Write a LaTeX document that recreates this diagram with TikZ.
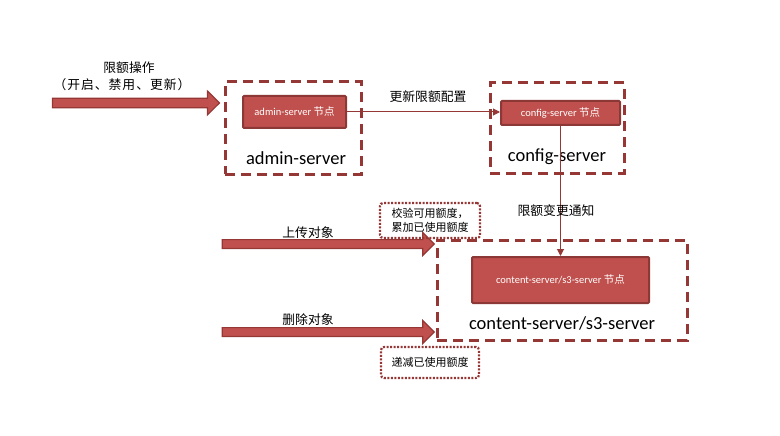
\documentclass[tikz,border=0pt]{standalone}
\usepackage{fontspec}
\setmainfont{Carlito}
\newfontfamily\cjk{Noto Sans CJK SC}
\usetikzlibrary{shapes.arrows,arrows.meta}
\definecolor{dred}{HTML}{953735}
\definecolor{mred}{HTML}{C0504D}
\definecolor{bred}{HTML}{8C3836}
\newcommand{\fwc}[1]{\makebox[13.8pt]{#1}}
\begin{document}
\begin{tikzpicture}[x=1pt,y=-1pt,
  group/.style={draw=dred, line width=3pt, dash pattern=on 10pt off 6pt, inner sep=0},
  innerbox/.style={draw=bred, fill=mred, line width=2pt, text=white, font=\fontsize{10.5}{12}\selectfont, rounded corners=1pt, inner sep=0},
  glabel/.style={font=\fontsize{18.5}{22}\selectfont},
  clabel/.style={font=\cjk\fontsize{12.8}{15}\selectfont},
  thinarrow/.style={draw=dred, line width=1pt, -{Triangle[length=7pt,width=7pt]}},
  bigarrow/.style={single arrow, draw=dred, fill=mred, line width=1.2pt, single arrow head indent=0, shape border rotate=0},
  note/.style={draw=dred, line width=2.2pt, dash pattern=on 2pt off 1.5pt, rounded corners=3pt, inner sep=0, font=\cjk\fontsize{11}{14}\selectfont, align=left}
]
\useasboundingbox (0,0) rectangle (780,436);

% groups
\node[group, minimum width=136, minimum height=92] (adminbox) at (293,128) {};
\node[group, minimum width=134, minimum height=90] (configbox) at (557,128) {};
\node[group, minimum width=250, minimum height=100] (contentbox) at (562,290) {};

% inner nodes
\node[innerbox, minimum width=103, minimum height=32] (adminin) at (294.5,112) {admin-server {\cjk 节点}};
\node[innerbox, minimum width=119, minimum height=24] (configin) at (560.5,113) {config-server {\cjk 节点}};
\node[innerbox, minimum width=177, minimum height=46] (contentin) at (560.5,280) {content-server/s3-server {\cjk 节点}};

% group labels
\node[glabel] (adminlab) at (296,158) {admin-server};
\node[glabel] (configlab) at (557,157) {config-server};
\node[glabel] (contentlab) at (562,323) {content-server/s3-server};

% connectors
\draw[thinarrow] (adminin.east) -- (adminin.east -| configin.west);
\draw[thinarrow] (configin.south) -- (contentin.north);
\node[clabel] (l1) at (428,97) {更新限额配置};
\node[clabel] (l2) at (556,211) {限额变更通知};

% big arrows
\node[bigarrow, minimum height=167, minimum width=16, inner sep=4.2] (opar) at (133.5,103) {};
\node[clabel] (op1) at (129,68) {限额操作};
\node[clabel] (op2) at (122,85) {\fwc{（}\fwc{开}\fwc{启}\fwc{、}\fwc{禁}\fwc{用}\fwc{、}\fwc{更}\fwc{新}\fwc{）}};

\node[bigarrow, minimum height=212, minimum width=13, inner sep=3.8] (upar) at (326,244) {};
\node[clabel] (upl) at (308,233) {上传对象};
\node[bigarrow, minimum height=212, minimum width=13, inner sep=3.8] (delar) at (326,332) {};
\node[clabel] (dell) at (308,320) {删除对象};

% notes
\node[note, minimum width=100, minimum height=35] (n1) at (430,220.5) {校验可用额度，\\累加已使用额度};
\node[note, minimum width=98, minimum height=31] (n2) at (430,362.5) {递减已使用额度};
\end{tikzpicture}
\end{document}
